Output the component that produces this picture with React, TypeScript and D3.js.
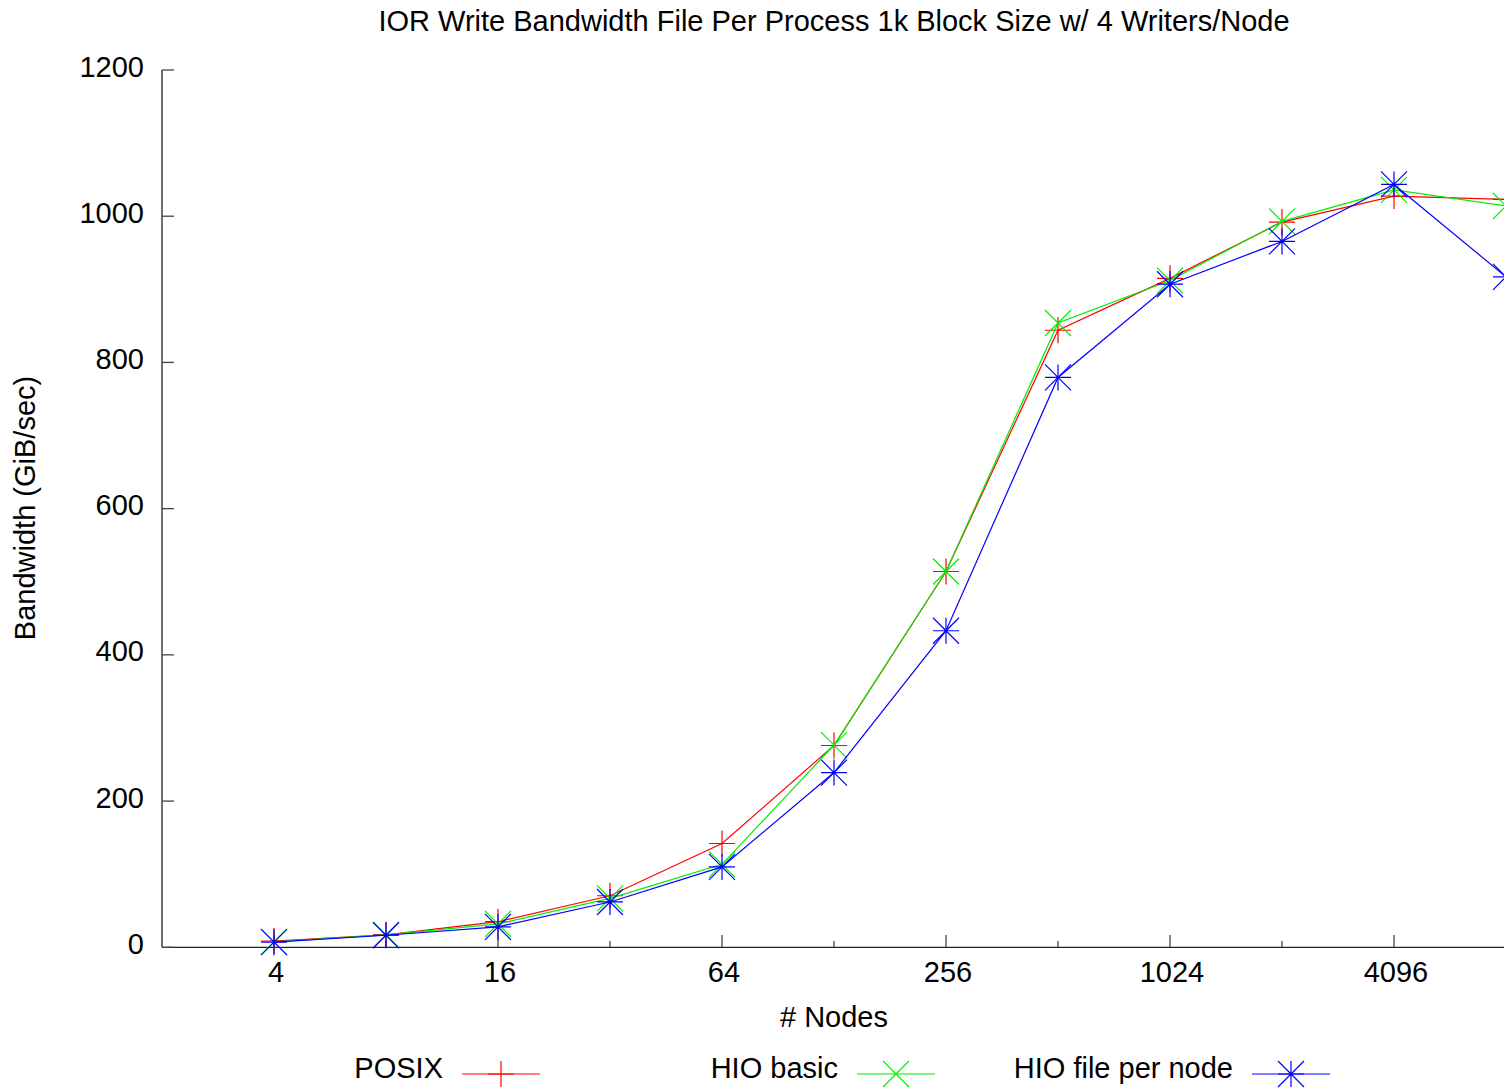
import React from "react";
import * as d3 from "d3";

const nodes = [4, 8, 16, 32, 64, 128, 256, 512, 1024, 2048, 4096, 8192];
const posix = [8.6, 17, 35, 70.5, 142, 276, 514, 844, 915, 992, 1027.5, 1023];
const hioBasic = [7.5, 17, 32, 67, 113.5, 276.5, 514, 854, 912, 993, 1036, 1014];
const hioFpn = [7, 16.5, 28, 62, 110, 239, 433, 779.5, 907, 965.5, 1043.5, 917];
const xMajorTicks = [4, 16, 64, 256, 1024, 4096];
const xMinorTicks = [8, 32, 128, 512, 2048];
const yTicks = [0, 200, 400, 600, 800, 1000, 1200];

const series = [
  { name: "POSIX", values: posix, color: "#ff0000", marker: "plus" },
  { name: "HIO basic", values: hioBasic, color: "#00ee00", marker: "cross" },
  { name: "HIO file per node", values: hioFpn, color: "#0000ff", marker: "star" },
];

const W = 1504;
const H = 1089;
const FONT = "'Liberation Sans', Arial, Helvetica, sans-serif";
const FS = 29;

function Marker({ x, y, type, color }: { x: number; y: number; type: string; color: string }) {
  const s = 13;
  const parts: string[] = [];
  if (type === "plus" || type === "star") {
    parts.push(`M${x - s},${y}H${x + s}M${x},${y - s}V${y + s}`);
  }
  if (type === "cross" || type === "star") {
    parts.push(`M${x - s},${y - s}L${x + s},${y + s}M${x - s},${y + s}L${x + s},${y - s}`);
  }
  return <path d={parts.join("")} stroke={color} strokeWidth={1.2} fill="none" />;
}

export default function App() {
  const x = d3.scaleLog().base(2).domain([2, 8192]).range([162, 1506]);
  const y = d3.scaleLinear().domain([0, 1200]).range([947.3, 70]);
  const line = d3
    .line<[number, number]>()
    .x((d) => x(d[0]))
    .y((d) => y(d[1]));

  const legendY = 1074;
  const legendItems = [
    { textEnd: 443, lineStart: 462 },
    { textEnd: 838, lineStart: 857 },
    { textEnd: 1233, lineStart: 1252 },
  ];

  return (
    <div style={{ position: "absolute", left: 0, top: 0 }}>
      <svg width={W} height={H} style={{ display: "block", background: "#fff" }} fontFamily={FONT}>
        <text x={834} y={31} textAnchor="middle" fontSize={FS} fill="#000">
          IOR Write Bandwidth File Per Process 1k Block Size w/ 4 Writers/Node
        </text>
        {/* axes */}
        <line x1={162} y1={70} x2={162} y2={947.3} stroke="#222" strokeWidth={1.3} />
        <line x1={162} y1={947.3} x2={1506} y2={947.3} stroke="#222" strokeWidth={1.3} />
        {yTicks.map((t) => (
          <g key={"y" + t}>
            <line x1={162} x2={174} y1={y(t)} y2={y(t)} stroke="#444" strokeWidth={1.3} />
            <text x={144} y={y(t) + 6.5} textAnchor="end" fontSize={FS} fill="#000">
              {t}
            </text>
          </g>
        ))}
        {xMajorTicks.map((t) => (
          <g key={"x" + t}>
            <line x1={x(t)} x2={x(t)} y1={947.3} y2={935} stroke="#444" strokeWidth={1.3} />
            <text x={x(t) + 2} y={981.5} textAnchor="middle" fontSize={FS} fill="#000">
              {t}
            </text>
          </g>
        ))}
        {xMinorTicks.map((t) => (
          <line key={"m" + t} x1={x(t)} x2={x(t)} y1={947.3} y2={941} stroke="#444" strokeWidth={1.3} />
        ))}
        <text x={834} y={1026.5} textAnchor="middle" fontSize={FS} fill="#000">
          # Nodes
        </text>
        <text
          transform={`translate(35,508) rotate(-90)`}
          textAnchor="middle"
          fontSize={FS}
          fill="#000"
        >
          Bandwidth (GiB/sec)
        </text>
        {/* series */}
        {series.map((s) => {
          const pts = nodes.map((n, i) => [n, s.values[i]] as [number, number]);
          return (
            <g key={s.name}>
              <path d={line(pts) || ""} stroke={s.color} strokeWidth={1.2} fill="none" />
              {pts.map((p, i) => (
                <Marker key={i} x={x(p[0])} y={y(p[1])} type={s.marker} color={s.color} />
              ))}
            </g>
          );
        })}
        {/* legend */}
        {series.map((s, i) => {
          const li = legendItems[i];
          return (
            <g key={"lg" + s.name}>
              <text x={li.textEnd} y={1078.3} textAnchor="end" fontSize={FS} fill="#000">
                {s.name}
              </text>
              <line x1={li.lineStart} x2={li.lineStart + 78} y1={legendY} y2={legendY} stroke={s.color} strokeWidth={1.2} />
              <Marker x={li.lineStart + 39} y={legendY} type={s.marker} color={s.color} />
            </g>
          );
        })}
      </svg>
    </div>
  );
}
